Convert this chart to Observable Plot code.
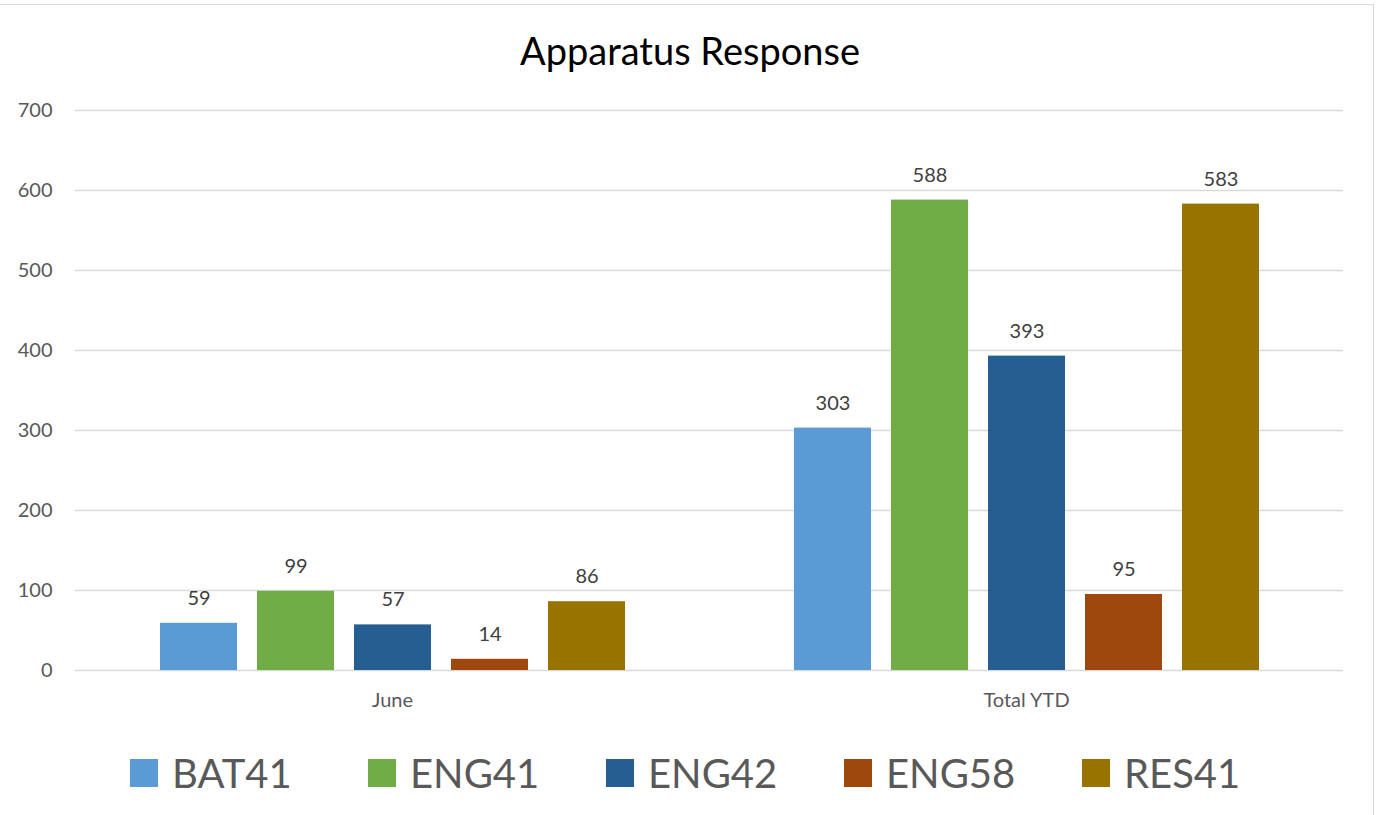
<!DOCTYPE html>
<html>
<head>
<meta charset="utf-8">
<script src="https://cdn.jsdelivr.net/npm/d3@7"></script>
<script src="https://cdn.jsdelivr.net/npm/@observablehq/plot@0.6"></script>
<style>
  html, body { margin: 0; padding: 0; background: #fff; overflow: hidden; }
  body { width: 1380px; height: 815px; position: relative; font-family: Lato, "Open Sans", sans-serif; }
  #frame { position: absolute; left: -2px; top: 4px; width: 1376px; height: 840px; border: 1.5px solid #d9d9d9; box-sizing: border-box; }
  #title { position: absolute; top: 27px; left: 0; width: 1380px; text-align: center; font-size: 38px; line-height: 46px; color: #000; }
  #chart { position: absolute; top: 85px; left: 0; }
  #legend { position: absolute; top: 750px; left: 130px; height: 46px; display: flex; align-items: center; }
  .item { width: 238px; display: flex; align-items: center; }
  .sw { width: 28px; height: 28px; margin-right: 14px; }
  .lab { font-size: 40px; color: #595959; line-height: 46px; }
</style>
</head>
<body>
<div id="frame"></div>
<div id="title">Apparatus Response</div>
<div id="chart"></div>
<div id="legend"></div>
<script>
const categories = ["June", "Total YTD"];
const series = ["BAT41", "ENG41", "ENG42", "ENG58", "RES41"];
const juneValues = [59, 99, 57, 14, 86];
const ytdValues = [303, 588, 393, 95, 583];
const seriesColors = ["#5B9BD5", "#70AD47", "#255E91", "#9E480E", "#997300"];
const yTicks = [0, 100, 200, 300, 400, 500, 600, 700];

const valuesByCategory = [juneValues, ytdValues];
const data = categories.flatMap((c, i) =>
  series.map((s, j) => ({category: c, series: s, value: valuesByCategory[i][j]}))
);

const chart = Plot.plot({
  width: 1380,
  height: 630,
  marginTop: 25,
  marginBottom: 45,
  marginLeft: 75,
  marginRight: 37,
  style: {fontFamily: "Lato, 'Open Sans', sans-serif", fontSize: "20px", color: "#595959", background: "transparent"},
  fx: {domain: categories, padding: 0, label: null},
  x: {domain: series, paddingInner: 0.21, paddingOuter: 0.856, axis: null},
  y: {domain: [0, 700], ticks: yTicks, label: null},
  color: {domain: series, range: seriesColors},
  marks: [
    Plot.gridY(yTicks, {stroke: "#d9d9d9", strokeOpacity: 1, strokeWidth: 1.3}),
    Plot.axisY(yTicks, {tickSize: 0, tickPadding: 23, label: null, fontSize: 20, fill: "#595959"}),
    Plot.axisFx({anchor: "bottom", tickSize: 0, tickPadding: 22, label: null, fontSize: 20, fill: "#595959"}),
    Plot.barY(data, {fx: "category", x: "series", y: "value", fill: "series"}),
    Plot.text(data, {fx: "category", x: "series", y: "value", text: d => String(d.value), dy: -25, fill: "#404040", fontSize: 20})
  ]
});
document.getElementById("chart").appendChild(chart);

const legend = document.getElementById("legend");
series.forEach((s, i) => {
  const item = document.createElement("div");
  item.className = "item";
  const sw = document.createElement("div");
  sw.className = "sw";
  sw.style.background = seriesColors[i];
  const lab = document.createElement("span");
  lab.className = "lab";
  lab.textContent = s;
  item.appendChild(sw);
  item.appendChild(lab);
  legend.appendChild(item);
});
</script>
</body>
</html>
